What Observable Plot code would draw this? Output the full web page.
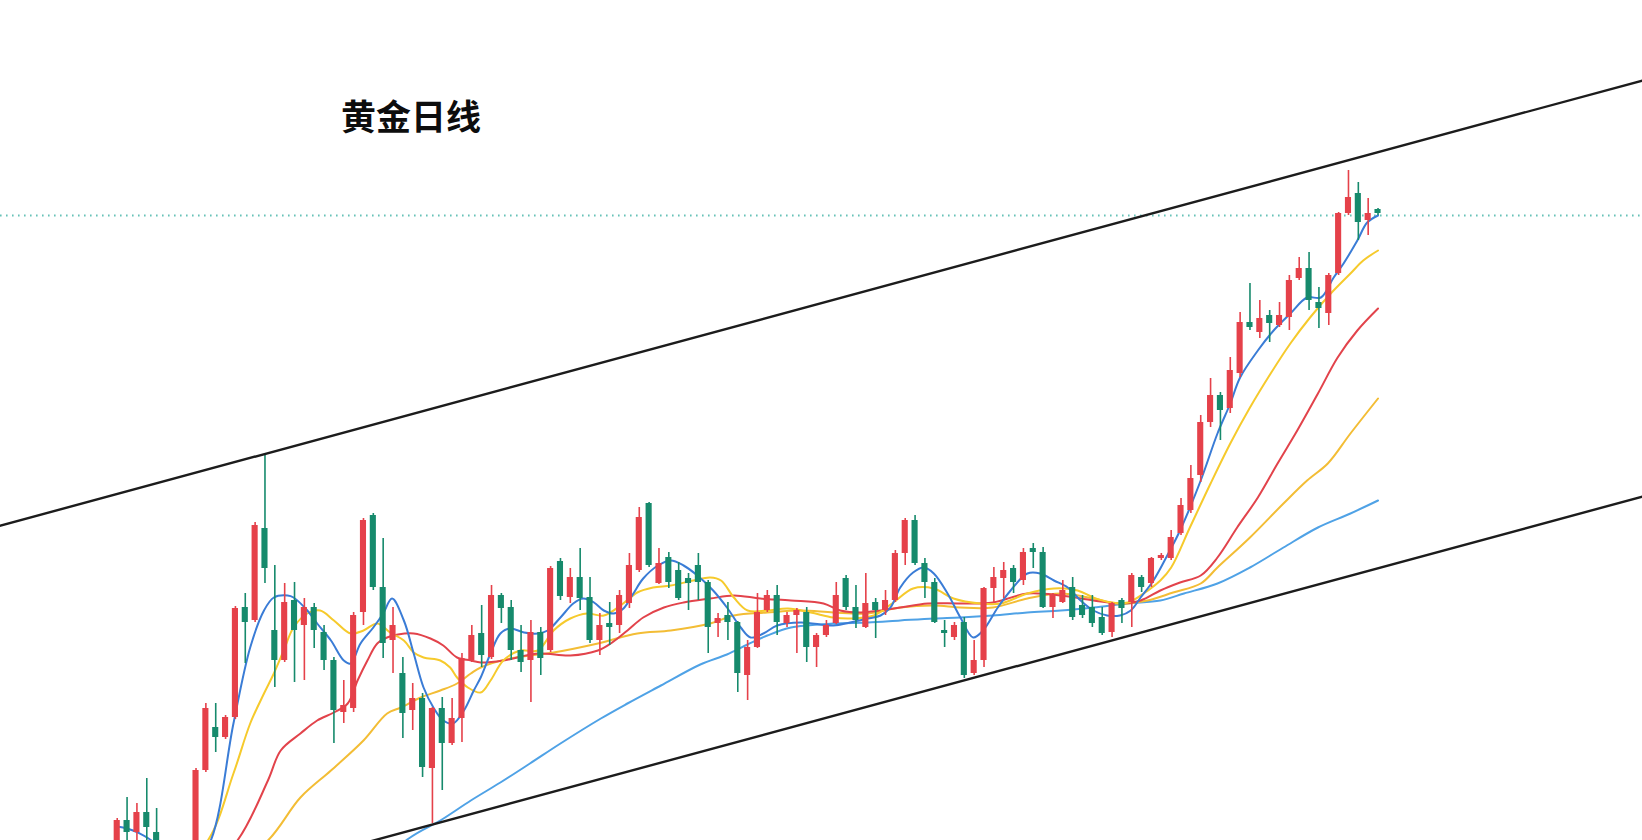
<!DOCTYPE html>
<html>
<head>
<meta charset="utf-8">
<script src="https://cdn.jsdelivr.net/npm/d3@7"></script>
<script src="https://cdn.jsdelivr.net/npm/@observablehq/plot@0.6"></script>
<style>
  html, body { margin: 0; padding: 0; background: #ffffff; }
  #wrap { position: relative; width: 1642px; height: 840px; overflow: hidden; }
  #title { position: absolute; left: 341px; top: 97px; font-family: "Noto Sans CJK SC", "Noto Sans", sans-serif; font-weight: 700; font-size: 35px; line-height: 1; color: #0d0d0d; }
</style>
</head>
<body>
<div id="wrap">
  <div id="chart"></div>
  <div id="title">黄金日线</div>
</div>
<script>
// Daily gold candles (index = trading day), prices
const open = [1750,1780,1768,1788,1768,1752,1732,1710,1740,1830,
  1873,1863,1883,1993,1980,2072,1970,1940,2000,1975,
  1993,1968,1940,1888,1892,1988,2085,2013,1960,1927,
  1890,1902,1832,1892,1857,1882,1940,1967,1943,2005,
  1993,1950,1940,1968,1950,2039,2003,2023,2003,1960,
  1977,1975,1997,2030,2097,2017,2043,2030,2022,2035,
  2018,1977,1985,1978,1925,1953,1990,2005,1977,1985,
  1988,1953,1965,1977,2022,1993,1973,1998,1990,2000,
  2047,2080,2037,2018,1970,1963,1978,1927,1940,2012,
  2022,2032,2020,2052,2048,1993,1998,2013,1995,1993,
  1983,1968,2000,1998,2023,2017,2042,2042,2067,2090,
  2125,2178,2205,2192,2227,2278,2268,2285,2275,2283,
  2322,2332,2298,2287,2327,2387,2407,2380,2391];
const high = [1782,1803,1797,1822,1792,1755,1735,1740,1832,1897,
  1897,1885,1994,2007,2078,2147,2035,2017,2018,2002,
  1997,1975,1943,1920,1988,2082,2087,2062,1993,1943,
  1917,1907,1893,1903,1902,1947,1975,1995,2015,2007,
  2000,1975,1980,1973,2034,2042,2032,2052,2023,1987,
  1998,2010,2047,2093,2098,2052,2048,2038,2027,2047,
  2020,1987,1998,1979,1960,2007,2010,2015,1988,1992,
  1993,1967,1980,2018,2025,2015,2027,2002,2010,2050,
  2082,2085,2042,2022,1980,1978,1983,1960,2013,2033,
  2038,2035,2052,2057,2053,2007,2020,2023,2005,2005,
  1993,1998,2002,2027,2025,2043,2047,2070,2102,2135,
  2185,2222,2208,2243,2288,2317,2300,2290,2298,2325,
  2343,2348,2313,2327,2388,2430,2418,2402,2392];
const low = [1745,1752,1755,1755,1735,1720,1705,1700,1735,1828,
  1848,1861,1881,1937,1978,2017,1913,1938,1918,1920,
  1952,1930,1857,1877,1888,1975,2010,1942,1927,1862,
  1870,1823,1777,1810,1855,1858,1938,1933,1941,1977,
  1940,1928,1898,1925,1948,2000,1997,1990,1957,1945,
  1955,1967,1992,2028,2033,2016,2012,2000,1990,2000,
  1947,1963,1960,1908,1900,1952,1988,1965,1973,1947,
  1938,1933,1963,1976,1990,1972,1972,1962,1985,1998,
  2035,2035,2002,1977,1953,1960,1922,1925,1933,1997,
  2002,2007,2015,2032,1992,1982,1997,1980,1982,1973,
  1965,1963,1977,1973,2008,2013,2040,2040,2065,2087,
  2118,2173,2160,2187,2223,2270,2262,2258,2273,2270,
  2320,2290,2272,2275,2325,2385,2360,2365,2385];
const close = [1780,1768,1788,1773,1745,1725,1710,1735,1830,1892,
  1863,1883,1992,1978,2075,2032,1940,1998,1970,1993,
  1970,1940,1890,1895,1985,2080,2013,1957,1975,1887,
  1902,1833,1892,1857,1882,1942,1965,1945,2005,1992,
  1950,1938,1968,1942,2032,2004,2023,2002,1960,1975,
  1973,2005,2035,2083,2035,2037,2018,2002,2017,2018,
  1973,1982,1978,1927,1953,1988,2005,1978,1985,1990,
  1953,1965,1975,2005,1993,1980,1997,1990,2000,2047,
  2080,2037,2018,1978,1967,1975,1925,1940,2012,2023,
  2030,2018,2048,2048,1993,2005,2010,1983,1985,1977,
  1967,1997,1992,2025,2013,2042,2045,2063,2095,2122,
  2178,2205,2190,2230,2278,2273,2282,2277,2285,2320,
  2332,2300,2292,2325,2387,2403,2378,2387,2387];

// Moving averages: [day index, price]
const ma5 = [[0,1774],[1,1772],[2.1,1768],[3.7,1758],[5.4,1730],[7.4,1730],[9.5,1760],[11.8,1877],[13.5,1953],[14.9,1990],[15.9,2003],[17.3,2005],[17.9,2003],[19.3,1990],[20.3,1977],[21.7,1960],[23,1940],[23.7,1937],[24.7,1957],[26,1973],[27,1987],[27.9,2002],[29.1,1980],[30.1,1947],[31.1,1913],[32.1,1893],[33.1,1880],[34.1,1877],[35.2,1890],[36.2,1910],[36.9,1923],[37.9,1947],[38.9,1967],[39.9,1972],[41.3,1968],[42.7,1967],[43.7,1970],[45,1983],[46.3,1997],[47.3,2002],[48.4,1998],[49.4,1990],[50.4,1987],[51.4,1992],[52.4,2007],[53.4,2022],[54.9,2035],[56.2,2040],[57.5,2035],[58.9,2025],[60.5,2010],[61.9,1993],[63.3,1973],[64.3,1963],[65.6,1967],[67,1975],[69.4,1978],[72.7,1975],[74.4,1978],[76.2,1982],[77.5,1985],[78.5,1993],[79.5,2013],[80.8,2028],[81.9,2033],[82.9,2027],[84.3,2007],[85.6,1983],[86.9,1963],[87.9,1970],[89.4,1993],[90.7,2010],[92.4,2027],[93.7,2027],[95.1,2020],[96.5,2013],[97.8,2000],[99.1,1990],[100.5,1985],[101.8,1985],[102.9,1990],[103.9,2003],[105.2,2020],[106.6,2045],[107.9,2070],[110,2120],[111.7,2167],[113,2197],[114,2223],[115.8,2250],[117.4,2270],[119.1,2287],[120.8,2303],[122.2,2303],[123.5,2323],[124.5,2337],[125.9,2360],[126.9,2378],[128,2385]];
const ma10 = [[0,1740],[5,1720],[9.2,1760],[11.8,1827],[13.5,1877],[14.9,1907],[15.9,1927],[16.9,1950],[17.9,1973],[19.3,1987],[20.6,1990],[22,1980],[23.7,1967],[25,1970],[26.4,1977],[27.7,1968],[29.1,1960],[30.1,1948],[31.1,1943],[32.8,1940],[33.8,1933],[34.5,1923],[35.6,1913],[36.9,1908],[37.9,1920],[39.2,1940],[40.9,1950],[42.7,1950],[44.3,1970],[46,1982],[47.7,1987],[49.4,1985],[51.1,1995],[52.8,2008],[54.4,2013],[56.2,2015],[58.5,2020],[60.2,2023],[61.3,2020],[62.6,2003],[64,1990],[66,1990],[68.1,1992],[70.4,1988],[72.7,1983],[74.4,1982],[76.8,1985],[78.8,1998],[80.8,2012],[82.9,2012],[84.9,2002],[87.6,1997],[89.7,1997],[92.4,2007],[95.1,2012],[97.5,2010],[99.1,2003],[100.8,1998],[102.6,1998],[104.2,2007],[105.9,2020],[107,2033],[108.9,2073],[111,2117],[113,2157],[115,2193],[117.1,2227],[119.1,2257],[121.1,2283],[123.2,2307],[125.2,2327],[126.5,2340],[128,2350]];
const ma20 = [[0,1690],[8,1720],[12.2,1760],[15.3,1820],[16.6,1850],[18.6,1867],[20.3,1880],[22,1888],[23.4,1897],[24.4,1920],[25.4,1940],[26.4,1957],[27.4,1963],[28.5,1966],[30.1,1967],[31.8,1962],[33.1,1955],[34.5,1943],[35.9,1940],[36.9,1938],[39.2,1940],[42.7,1947],[46,1945],[48.8,1950],[50.1,1957],[51.8,1970],[53.4,1983],[55.5,1993],[57.5,1998],[60.2,2002],[62.6,2005],[65.3,2002],[68.4,2000],[71.7,1997],[73.4,1990],[75.5,1988],[77.5,1990],[79.5,1993],[82.3,1997],[85.6,1997],[88.9,1998],[92.4,2007],[95.8,2005],[99.1,2000],[101.8,1997],[103.9,2000],[105.9,2010],[107.9,2018],[110,2025],[111.7,2043],[113.7,2073],[115.8,2103],[117.8,2137],[119.8,2170],[121.9,2207],[123.9,2243],[125.9,2270],[128,2292]];
const ma30 = [[0,1660],[10,1720],[15.3,1760],[18.6,1803],[21.7,1830],[25,1860],[27.4,1887],[28.8,1893],[30.8,1903],[32.8,1910],[34.5,1917],[35.9,1927],[36.9,1933],[39.9,1942],[44.3,1948],[48.8,1957],[52.8,1967],[56.2,1970],[60.2,1977],[62.6,1985],[66,1988],[69.4,1990],[72.7,1988],[76.2,1987],[79.5,1993],[82.9,1995],[85.6,1993],[88.9,1993],[92.4,2002],[95.8,2007],[99.1,2002],[101.8,1997],[104.6,2000],[107.2,2008],[110,2017],[111.7,2033],[115,2063],[118.4,2097],[120.8,2120],[122.9,2137],[125.2,2167],[128,2202]];
const ma60 = [[20,1680],[29.6,1762],[32.8,1780],[35.9,1800],[38.9,1818],[41.9,1837],[45,1857],[49.1,1882],[51.8,1897],[55.2,1915],[59.2,1936],[61.9,1946],[64,1956],[66,1965],[68.4,1973],[72.7,1977],[76.2,1978],[79.5,1980],[82.9,1982],[85.6,1983],[88.9,1985],[92.4,1988],[95.8,1990],[99.1,1993],[102.6,1997],[105.9,2000],[108.3,2007],[111.7,2017],[115,2033],[118.4,2053],[121.9,2073],[125.2,2087],[128,2100]];

// Channel trend lines: [day index, price]
const channelUpper = [[-12, 2074.5], [155, 2520.4]];
const channelLower = [[-12, 1658.5], [155, 2104.3]];
const lastPrice = 2385;

const RED = "#e5414a", GREEN = "#168a6c";
const candles = open.map((o, i) => ({i, open: o, high: high[i], low: low[i], close: close[i]}));
const colorOf = d => d.close >= d.open ? RED : GREEN;

const maLine = (pts, color) => Plot.line(pts, {x: d => d[0], y: d => d[1], stroke: color, strokeWidth: 2, curve: "catmull-rom", clip: true});
const trend = pts => Plot.line(pts, {x: d => d[0], y: d => d[1], stroke: "#1c1c1c", strokeWidth: 2.4, clip: true});

const chart = Plot.plot({
  width: 1642,
  height: 840,
  margin: 0,
  style: {background: "#ffffff"},
  x: {domain: [-11.85, 154.85], axis: null},
  y: {domain: [1760, 2600], axis: null},
  color: {type: "identity"},
  marks: [
    Plot.ruleY([lastPrice], {stroke: "#67c2b7", strokeWidth: 1.8, strokeDasharray: "1.6,4.4"}),
    maLine(ma60, "#4fa2e6"),
    maLine(ma30, "#f3bd35"),
    maLine(ma20, "#e2434b"),
    maLine(ma10, "#f6ca2c"),
    maLine(ma5, "#3a7cd6"),
    Plot.ruleX(candles, {x: "i", y1: "low", y2: "high", stroke: colorOf, strokeWidth: 1.6, clip: true}),
    Plot.rect(candles, {x1: d => d.i - 0.31, x2: d => d.i + 0.31, y1: "open", y2: "close", fill: colorOf, clip: true}),
    trend(channelUpper),
    trend(channelLower)
  ]
});
document.getElementById("chart").appendChild(chart);
</script>
</body>
</html>
